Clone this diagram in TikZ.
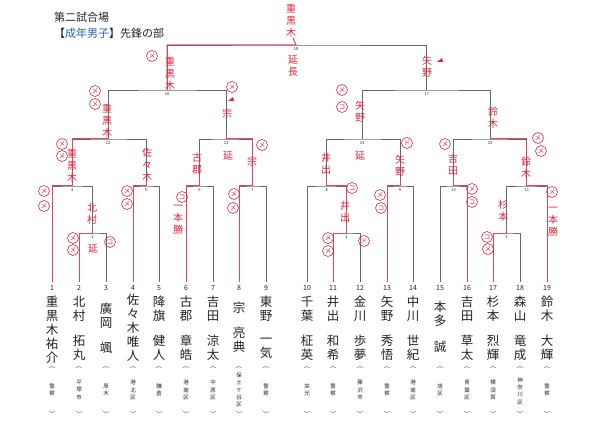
\documentclass[tikz,border=0pt]{standalone}
\usepackage{fontspec}
\setmainfont{Noto Sans CJK JP}
\definecolor{lineg}{RGB}{105,105,105}
\definecolor{winred}{RGB}{228,70,90}
\definecolor{hred}{RGB}{222,40,62}
\definecolor{txt}{RGB}{35,35,35}
\definecolor{titleblue}{RGB}{30,100,190}
\begin{document}
\begin{tikzpicture}[x=1pt,y=-1pt,
  brk/.style={draw=lineg,line width=0.8pt},
  win/.style={draw=winred,line width=1pt},
  ttl/.style={inner sep=0,anchor=west,text=txt,font=\fontsize{11}{12}\selectfont},
  pname/.style={inner sep=0,align=center,text=txt,font=\fontsize{12.5}{14}\selectfont},
  pnum/.style={inner sep=0,text=txt,font=\fontsize{7}{8}\selectfont},
  aff/.style={inner sep=0,align=center,text=txt,font=\fontsize{5.5}{7.3}\selectfont},
  paren/.style={inner sep=0,text=txt,font=\fontsize{6}{6}\selectfont,rotate=-90},
  mlab/.style={inner sep=0,text=txt,font=\fontsize{4}{4}\selectfont,anchor=north,yshift=-2pt},
  hand/.style={inner sep=0,align=center,text=hred,font=\fontsize{10}{12}\selectfont},
  mk/.style={circle,draw=hred,line width=0.6pt,inner sep=0,minimum size=11pt,text=hred,font=\fontsize{6.5}{6.5}\selectfont}]
\useasboundingbox (0,0) rectangle (600,425);

% title
\node[ttl] (t1) at (54,17) {第二試合場};
\node[ttl] (t2) at (54,33) {【{\color{titleblue}成年男子}】先鋒の部};

% players: bottoms, numbers, brackets for affiliation
\foreach \i/\x in {1/52,2/79,3/106,4/133,5/159,6/186,7/213,8/239,9/266,10/307,11/333,12/360,13/387,14/413,15/440,16/467,17/493,18/520,19/547}{
  \coordinate (p\i) at (\x,282);
  \node[pnum] (num\i) at (\x,288) {\i};
  \node[paren] (po\i) at (\x,368) {(};
  \node[paren] (pc\i) at (\x,413) {)};
}

% names
\node[pname] (n1) at (52,329.5) {重\\黒\\木\\祐\\介};
\node[pname] (n2s) at (79,309) {北\\村};   \node[pname] (n2g) at (79,348) {拓\\丸};
\node[pname] (n3s) at (106,316) {廣\\岡}; \node[pname] (n3g) at (106,348) {颯};
\node[pname] (n4) at (133,328) {佐\\々\\木\\唯\\人};
\node[pname] (n5s) at (159,309) {降\\旗};  \node[pname] (n5g) at (159,348) {健\\人};
\node[pname] (n6s) at (186,309) {古\\郡};  \node[pname] (n6g) at (186,348) {章\\皓};
\node[pname] (n7s) at (213,309) {吉\\田};  \node[pname] (n7g) at (213,348) {涼\\太};
\node[pname] (n8s) at (239,308) {宗};     \node[pname] (n8g) at (239,340) {亮\\典};
\node[pname] (n9s) at (266,309) {東\\野};  \node[pname] (n9g) at (266,348) {一\\気};
\node[pname] (n10s) at (307,309) {千\\葉}; \node[pname] (n10g) at (307,348) {柾\\英};
\node[pname] (n11s) at (333,309) {井\\出}; \node[pname] (n11g) at (333,348) {和\\希};
\node[pname] (n12s) at (360,309) {金\\川}; \node[pname] (n12g) at (360,348) {歩\\夢};
\node[pname] (n13s) at (387,309) {矢\\野}; \node[pname] (n13g) at (387,348) {秀\\悟};
\node[pname] (n14s) at (413,309) {中\\川}; \node[pname] (n14g) at (413,348) {世\\紀};
\node[pname] (n15s) at (440,314) {本\\多}; \node[pname] (n15g) at (440,347) {誠};
\node[pname] (n16s) at (467,309) {吉\\田}; \node[pname] (n16g) at (467,348) {草\\太};
\node[pname] (n17s) at (493,309) {杉\\本}; \node[pname] (n17g) at (493,348) {烈\\輝};
\node[pname] (n18s) at (520,309) {森\\山}; \node[pname] (n18g) at (520,348) {竜\\成};
\node[pname] (n19s) at (547,309) {鈴\\木}; \node[pname] (n19g) at (547,348) {大\\輝};

% affiliations
\node[aff] (a1) at (52,390) {警\\察};
\node[aff] (a2) at (79,390) {平\\塚\\市};
\node[aff] (a3) at (106,390) {厚\\木};
\node[aff] (a4) at (133,390) {港\\北\\区};
\node[aff] (a5) at (159,390) {鎌\\倉};
\node[aff] (a6) at (186,390) {港\\南\\区};
\node[aff] (a7) at (213,390) {中\\原\\区};
\node[aff] (a8) at (239,390) {保\\土\\ケ\\谷\\区};
\node[aff] (a9) at (266,390) {警\\察};
\node[aff] (a10) at (307,390) {栄\\光};
\node[aff] (a11) at (333,390) {警\\察};
\node[aff] (a12) at (360,390) {藤\\沢\\市};
\node[aff] (a13) at (387,390) {警\\察};
\node[aff] (a14) at (413,390) {港\\南\\区};
\node[aff] (a15) at (440,390) {旭\\区};
\node[aff] (a16) at (467,390) {青\\葉\\区};
\node[aff] (a17) at (493,390) {横\\須\\賀};
\node[aff] (a18) at (520,391) {神\\奈\\川\\区};
\node[aff] (a19) at (547,390) {警\\察};

% match points
\coordinate (m1) at (92.5,233);  \coordinate (m2) at (346.5,233); \coordinate (m3) at (506.5,233);
\coordinate (m4) at (72.25,186); \coordinate (m5) at (146,186);  \coordinate (m6) at (199.5,186);
\coordinate (m7) at (252.5,186); \coordinate (m8) at (326.75,186); \coordinate (m9) at (400,186);
\coordinate (m10) at (453.5,186); \coordinate (m11) at (526.75,186);
\coordinate (m12) at (108,139); \coordinate (m13) at (226,139);
\coordinate (m14) at (362,139); \coordinate (m15) at (490.1,139);
\coordinate (m16) at (167,90); \coordinate (m17) at (426.8,90);
\coordinate (m18) at (296,45);

% bracket
\draw[brk] (p2) |- (m1) -| (p3);
\draw[brk] (p11) |- (m2) -| (p12);
\draw[brk] (p17) |- (m3) -| (p18);
\draw[brk] (p1) |- (m4) -| (m1);
\draw[brk] (p4) |- (m5) -| (p5);
\draw[brk] (p6) |- (m6) -| (p7);
\draw[brk] (p8) |- (m7) -| (p9);
\draw[brk] (p10) |- (m8) -| (m2);
\draw[brk] (p13) |- (m9) -| (p14);
\draw[brk] (p15) |- (m10) -| (p16);
\draw[brk] (m3) |- (m11) -| (p19);
\draw[brk] (m4) |- (m12) -| (m5);
\draw[brk] (m6) |- (m13) -| (m7);
\draw[brk] (m8) |- (m14) -| (m9);
\draw[brk] (m10) |- (m15) -| (m11);
\draw[brk] (m12) |- (m16) -| (m13);
\draw[brk] (m14) |- (m17) -| (m15);
\draw[brk] (m16) |- (m18) -| (m17);

% winners (red)
\draw[win] (p1) |- (m4) |- (m12);
\draw[win] (p2) |- (m1) -- ++(0,-6);
\draw[win] (p4) |- (m5) -- ++(0,-6);
\draw[win] (p6) |- (m6) -- ++(0,-7);
\draw[win] (p8) |- (m7) |- (m13) -- ++(0,-6);
\draw[win] (p11) |- (m2) |- (m8) -- ++(0,-6);
\draw[win] (p13) |- (m9) -- ++(0,-6);
\draw[win] (p16) |- (m10) -- ++(0,-6);
\draw[win] (p17) |- (m3) -- ++(0,-6);
\draw[win] (p19) |- (m11) |- (m15);
\draw[win] (m16) |- (m18) -- ++(-3,-7);

% match labels
\foreach \m/\l in {m1/1,m2/2,m3/3,m4/4,m5/5,m6/6,m7/7,m8/8,m9/9,m10/10,m11/11,m12/12,m13/13,m14/14,m15/15,m16/16,m17/17,m18/18}
  \node[mlab] (l\l) at (\m) {\l};

% handwritten names
\node[hand] (h1) at (291,21) {重\\黒\\木};
\node[hand] (h2) at (293,66) {延\\長};
\node[hand] (h3) at (170,74) {重\\黒\\木};
\node[hand] (h4) at (107,121) {重\\黒\\木};
\node[hand] (h5) at (227,114) {宗};
\node[hand] (h6) at (197,164) {古\\郡};
\node[hand] (h7) at (228,156) {延};
\node[hand] (h8) at (252,162) {宗};
\node[hand] (h9) at (72,166) {重\\黒\\木};
\node[hand] (h10) at (147,165) {佐\\々\\木};
\node[hand] (h11) at (92,214) {北\\村};
\node[hand] (h12) at (93,249) {延};
\node[hand] (h13) at (178,220) {一\\本\\勝};
\node[hand] (h14) at (427,67) {矢\\野};
\node[hand] (h15) at (360,112) {矢\\野};
\node[hand] (h16) at (493,118) {鈴\\木};
\node[hand] (h17) at (326,164) {井\\出};
\node[hand] (h18) at (360,156) {延};
\node[hand] (h19) at (400,166) {矢\\野};
\node[hand] (h20) at (345,212) {井\\出};
\node[hand] (h21) at (453,165) {吉\\田};
\node[hand] (h22) at (526,168) {鈴\\木};
\node[hand] (h23) at (553,222) {一\\本\\勝};
\node[hand] (h24) at (503,211) {杉\\本};

% scoring marks
\node[mk] (k1) at (152,56) {メ};
\node[mk] (k2) at (95,91) {メ};
\node[mk] (k3) at (95,104) {メ};
\node[mk] (k4) at (232,87) {メ};
\node[mk] (k5) at (342,90) {メ};
\node[mk] (k6) at (342,107) {コ};
\node[mk] (k7) at (62,144) {メ};
\node[mk] (k8) at (62,156) {メ};
\node[mk] (k9) at (262,145) {メ};
\node[mk] (k10) at (407,143) {ド};
\node[mk] (k11) at (445,144) {メ};
\node[mk] (k12) at (538,138) {メ};
\node[mk] (k13) at (541,151) {メ};
\node[mk] (k14) at (44,191) {メ};
\node[mk] (k15) at (44,206) {メ};
\node[mk] (k16) at (73,238) {メ};
\node[mk] (k17) at (73,250) {メ};
\node[mk] (k18) at (110,242) {コ};
\node[mk] (k19) at (127,191) {メ};
\node[mk] (k20) at (127,204) {メ};
\node[mk] (k21) at (182,197) {コ};
\node[mk] (k22) at (234,194) {メ};
\node[mk] (k23) at (233,208) {メ};
\node[mk] (k24) at (352,188) {コ};
\node[mk] (k25) at (380,195) {メ};
\node[mk] (k26) at (381,208) {コ};
\node[mk] (k27) at (328,238) {メ};
\node[mk] (k28) at (328,251) {メ};
\node[mk] (k29) at (364,241) {ド};
\node[mk] (k30) at (472,189) {メ};
\node[mk] (k31) at (472,202) {コ};
\node[mk] (k32) at (552,192) {メ};
\node[mk] (k33) at (487,237) {コ};
\node[mk] (k34) at (488,249) {メ};

% small flag marks
\fill[hred] (228,101) -- (233,97) -- (234,101) -- cycle;
\fill[hred] (437,62) -- (442,58) -- (443,62) -- cycle;
\end{tikzpicture}
\end{document}
